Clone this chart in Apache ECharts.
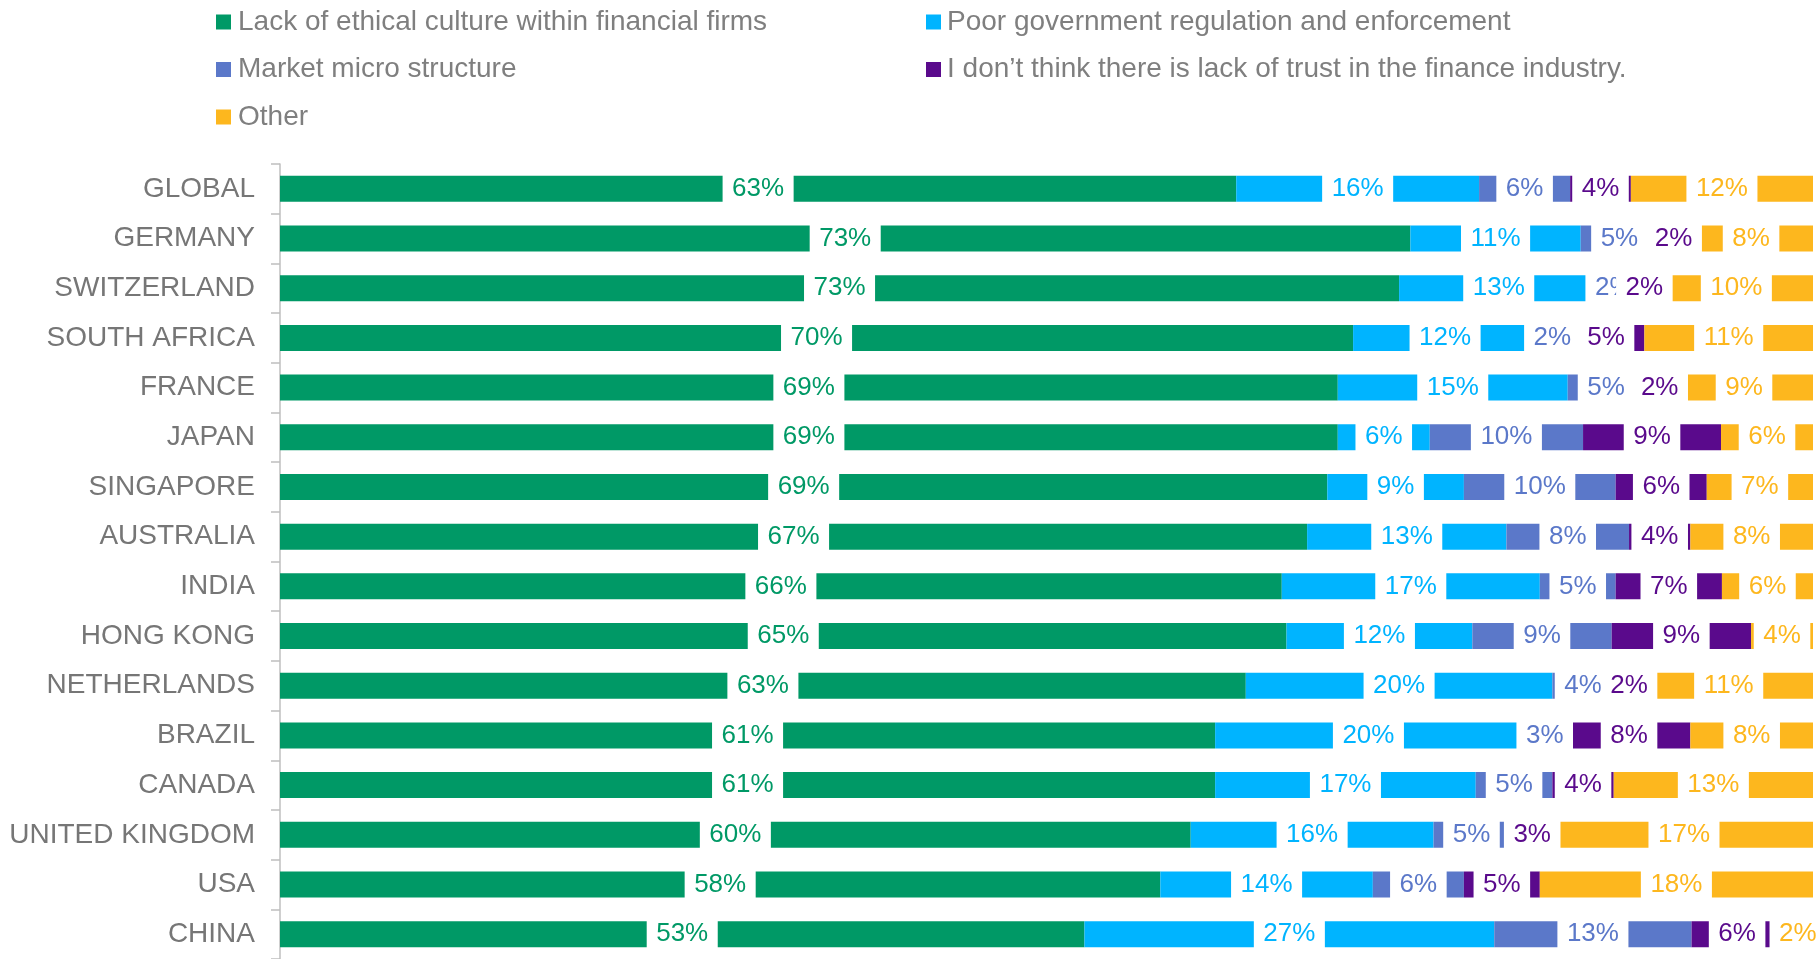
<!DOCTYPE html>
<html>
<head>
<meta charset="utf-8">
<script src="https://cdn.jsdelivr.net/npm/echarts@6/dist/echarts.min.js"></script>
<style>
  html, body { margin: 0; padding: 0; background: #fff; }
  #chart { width: 1819px; height: 959px; }
</style>
</head>
<body>
<div id="chart"></div>
<script>
const categories = ['GLOBAL', 'GERMANY', 'SWITZERLAND', 'SOUTH AFRICA', 'FRANCE', 'JAPAN', 'SINGAPORE',
  'AUSTRALIA', 'INDIA', 'HONG KONG', 'NETHERLANDS', 'BRAZIL', 'CANADA', 'UNITED KINGDOM', 'USA', 'CHINA'];

const seriesNames = [
  'Lack of ethical culture within financial firms',
  'Poor government regulation and enforcement',
  'Market micro structure',
  'I don\u2019t think there is lack of trust in the finance industry.',
  'Other'
];

const lackOfEthicalCulture = [63, 73, 73, 70, 69, 69, 69, 67, 66, 65, 63, 61, 61, 60, 58, 53];
const poorRegulation       = [16, 11, 13, 12, 15,  6,  9, 13, 17, 12, 20, 20, 17, 16, 14, 27];
const marketMicroStructure = [ 6,  5,  2,  2,  5, 10, 10,  8,  5,  9,  4,  3,  5,  5,  6, 13];
const noLackOfTrust        = [ 4,  2,  2,  5,  2,  9,  6,  4,  7,  9,  2,  8,  4,  3,  5,  6];
const other                = [12,  8, 10, 11,  9,  6,  7,  8,  6,  4, 11,  8, 13, 17, 18,  2];

const colors = ['#009966', '#00B4FF', '#5B78C9', '#5A0A8C', '#FDB71E'];

const allSeries = [lackOfEthicalCulture, poorRegulation, marketMicroStructure, noLackOfTrust, other];
// 100% stacked: each row is shown as share of its total (like a 100% stacked bar)
const rowTotals = categories.map((c, i) => allSeries.reduce((s, arr) => s + arr[i], 0));

const FONT = "'Liberation Sans', Arial, sans-serif";

const series = allSeries.map((arr, k) => ({
  name: seriesNames[k],
  type: 'bar',
  stack: 'total',
  barWidth: 26,
  itemStyle: { color: colors[k] },
  label: {
    show: true,
    position: 'inside',
    color: colors[k],
    fontFamily: FONT,
    fontSize: 26,
    backgroundColor: '#ffffff',
    padding: [6.5, 9.5, 2, 9.5],
    formatter: p => p.data.raw + '%'
  },
  emphasis: { disabled: true },
  data: arr.map((v, i) => ({ value: v / rowTotals[i] * 100, raw: v }))
}));

const chart = echarts.init(document.getElementById('chart'), null, { renderer: 'canvas' });
chart.setOption({
  animation: false,
  backgroundColor: '#ffffff',
  color: colors,
  legend: [
    {
      data: [seriesNames[0], seriesNames[2], seriesNames[4]],
      orient: 'vertical',
      left: 216,
      top: 8,
      padding: 0,
      itemWidth: 15,
      itemHeight: 15,
      itemGap: 19.5,
      icon: 'rect',
      selectedMode: false,
      textStyle: { fontFamily: FONT, fontSize: 28, lineHeight: 28, color: '#7F7F7F', padding: [0, 0, 0, 2] }
    },
    {
      data: [seriesNames[1], seriesNames[3]],
      orient: 'vertical',
      left: 926,
      top: 8,
      padding: 0,
      itemWidth: 15,
      itemHeight: 15,
      itemGap: 19.5,
      icon: 'rect',
      selectedMode: false,
      textStyle: { fontFamily: FONT, fontSize: 28, lineHeight: 28, color: '#7F7F7F', padding: [0, 0, 0, 1] }
    }
  ],
  grid: { left: 280, right: 6, top: 164, height: 798, containLabel: false },
  xAxis: {
    type: 'value',
    min: 0,
    max: 100,
    show: false,
    splitLine: { show: false }
  },
  yAxis: {
    type: 'category',
    data: categories,
    inverse: true,
    axisLine: { show: true, lineStyle: { color: '#BFBFBF', width: 1.5 } },
    axisTick: { show: true, length: 9, lineStyle: { color: '#BFBFBF', width: 1.5 } },
    axisLabel: { fontFamily: FONT, fontSize: 28, color: '#767676', margin: 25, padding: [4.5, 0, 0, 0] },
    splitLine: { show: false }
  },
  series: series
});
</script>
</body>
</html>
